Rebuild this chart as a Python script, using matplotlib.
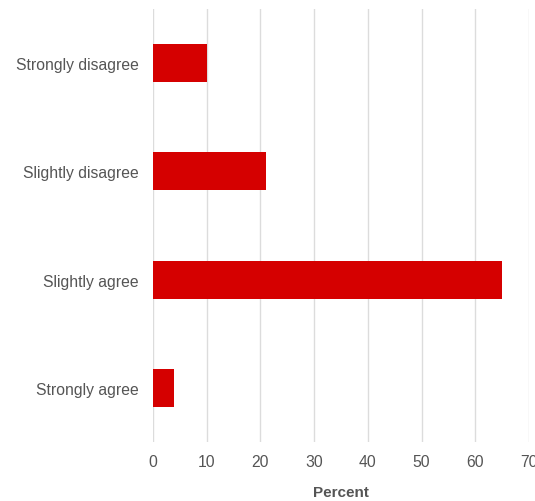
import matplotlib
matplotlib.use('Agg')
import matplotlib.pyplot as plt

categories = ["Strongly disagree", "Slightly disagree", "Slightly agree", "Strongly agree"]
percent = [10, 21, 65, 4]
x_ticks = [0, 10, 20, 30, 40, 50, 60, 70]

plt.rcParams['font.family'] = ['Liberation Sans', 'DejaVu Sans']

fig = plt.figure(figsize=(5.35, 5.02), dpi=100)
ax = fig.add_axes([153 / 535, 1 - 443 / 502, (529 - 153) / 535, (443 - 10) / 502])

ypos = list(range(len(categories)))
ax.barh(ypos, percent, height=0.35, color="#d50000", zorder=3)

ax.set_xlim(0, 70)
ax.set_ylim(len(categories) - 0.5, -0.5)
ax.set_yticks(ypos)
ax.set_yticklabels(categories)
ax.set_xticks(x_ticks)
ax.set_xticklabels([str(t) for t in x_ticks])

for s in ax.spines.values():
    s.set_visible(False)
ax.grid(axis="x", color="#dcdcdc", linewidth=1.0, zorder=0)
ax.tick_params(axis="both", length=0, colors="#555555", labelsize=11.3)
ax.tick_params(axis="y", pad=10)
ax.tick_params(axis="x", pad=9)

ax.set_xlabel("Percent", fontsize=11, fontweight="bold", color="#555555", labelpad=11)

fig.savefig("out.png", dpi=100)
